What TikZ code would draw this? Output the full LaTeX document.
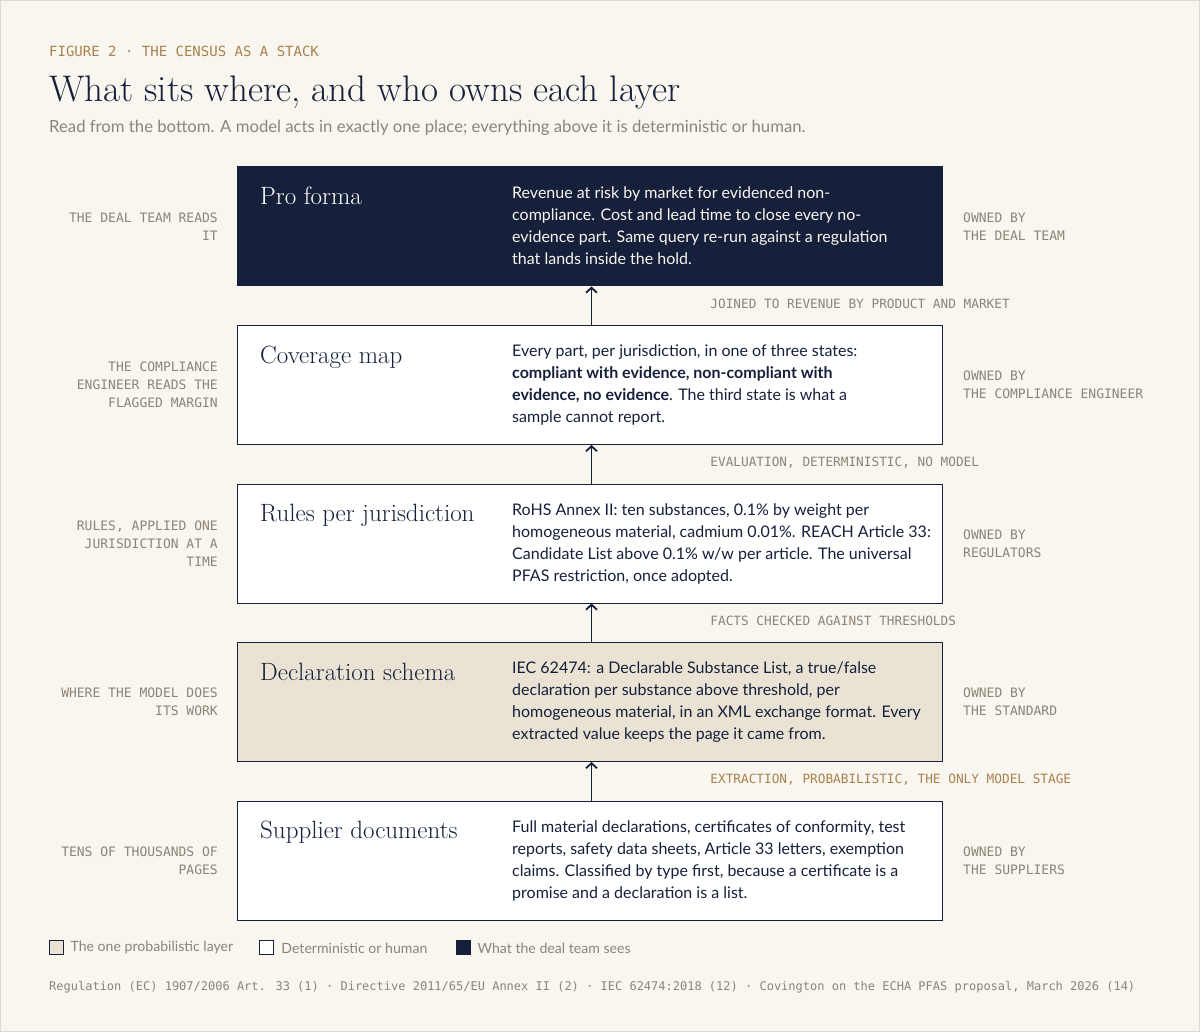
\documentclass[tikz,border=0pt]{standalone}
\usepackage{fontspec}
\usetikzlibrary{arrows.meta,positioning}
\newfontfamily\bodyfont{Lato}
\newfontfamily\monofont{DejaVu Sans Mono}
\definecolor{ink}{HTML}{16203A}
\definecolor{paper}{HTML}{F9F6EF}
\definecolor{sand}{HTML}{EAE3D4}
\definecolor{gold}{HTML}{A8824E}
\definecolor{stone}{HTML}{8C8477}
\definecolor{rim}{HTML}{DDD9D1}
\tikzset{
    layer/.style={draw=ink, line width=1pt, fill=white, minimum width=705pt,
    	minimum height=119pt, inner sep=0pt},
    head/.style={anchor=base west, inner sep=0pt, text=ink,
    	font=\fontsize{25}{28}\selectfont},
    body/.style={anchor=north west, inner sep=0pt, align=left, text=ink,
    	font=\bodyfont\fontsize{16}{22}\selectfont},
    side/.style={inner sep=0pt, text=stone,
    	font=\monofont\fontsize{13}{18}\selectfont},
    flowlabel/.style={anchor=west, inner sep=0pt, text=stone, xshift=118pt,
    	yshift=2pt, font=\monofont\fontsize{12.75}{14}\selectfont},
    arr/.style={draw=ink, line width=1.8pt, -{Straight Barb[length=5pt,width=11pt]}},
    key/.style={draw=ink, line width=.8pt, minimum size=14pt, inner sep=0pt},
    keytext/.style={inner sep=0pt, text=stone, font=\bodyfont\fontsize{14.1}{16}\selectfont}
}
\begin{document}
\begin{tikzpicture}[x=1pt, y=-1pt]
	\path[fill=paper, draw=rim] (0.5,0.5) rectangle (1199.5,1031.5);
	\useasboundingbox (0,0) rectangle (1200,1032);
	% header
	\node[anchor=base west, inner sep=0pt, text=gold,
		font=\monofont\fontsize{14}{16}\selectfont] (fig) at (49,57)
		{FIGURE 2 · THE CENSUS AS A STACK};
	\node[anchor=base west, inner sep=0pt, text=ink,
		font=\fontsize{37}{42}\selectfont] (title) at (49,102)
		{What sits where, and who owns each layer};
	\node[anchor=base west, inner sep=0pt, text=stone,
		font=\bodyfont\fontsize{16.7}{19}\selectfont] (sub) at (49,133)
		{Read from the bottom. A model acts in exactly one place; everything above it is deterministic or human.};
	% the stack
	\node[layer, anchor=north west] (sup) at (237,800.5) {};
	\node[layer, fill=sand, above=38.5pt of sup] (dec) {};
	\node[layer, above=38.5pt of dec] (rul) {};
	\node[layer, above=38.5pt of rul] (cov) {};
	\node[layer, fill=ink, above=38.5pt of cov] (pro) {};
	\node[head, text=white] (pro-h) at ([shift={(23pt,-38pt)}]pro.north west) {Pro forma};
	\node[head] (cov-h) at ([shift={(23pt,-38pt)}]cov.north west) {Coverage map};
	\node[head] (rul-h) at ([shift={(23pt,-38pt)}]rul.north west) {Rules per jurisdiction};
	\node[head] (dec-h) at ([shift={(23pt,-38pt)}]dec.north west) {Declaration schema};
	\node[head] (sup-h) at ([shift={(23pt,-38pt)}]sup.north west) {Supplier documents};
	\node[body, text=paper] (pro-b) at ([shift={(275pt,-20pt)}]pro.north west)
		{Revenue at risk by market for evidenced non-\\
		compliance. Cost and lead time to close every no-\\
		evidence part. Same query re-run against a regulation\\
		that lands inside the hold.};
	\node[body] (cov-b) at ([shift={(275pt,-20pt)}]cov.north west)
		{Every part, per jurisdiction, in one of three states:\\
		\textbf{compliant with evidence, non-compliant with}\\
		\textbf{evidence, no evidence}. The third state is what a\\
		sample cannot report.};
	\node[body] (rul-b) at ([shift={(275pt,-20pt)}]rul.north west)
		{RoHS Annex II: ten substances, 0.1\% by weight per\\
		homogeneous material, cadmium 0.01\%. REACH Article 33:\\
		Candidate List above 0.1\% w/w per article. The universal\\
		PFAS restriction, once adopted.};
	\node[body] (dec-b) at ([shift={(275pt,-20pt)}]dec.north west)
		{IEC 62474: a Declarable Substance List, a true/false\\
		declaration per substance above threshold, per\\
		homogeneous material, in an XML exchange format. Every\\
		extracted value keeps the page it came from.};
	\node[body] (sup-b) at ([shift={(275pt,-20pt)}]sup.north west)
		{Full material declarations, certificates of conformity, test\\
		reports, safety data sheets, Article 33 letters, exemption\\
		claims. Classified by type first, because a certificate is a\\
		promise and a declaration is a list.};
	% who reads it
	\node[side, anchor=east, align=right] (pro-l) at ([xshift=-19pt]pro.west) {THE DEAL TEAM READS\\IT};
	\node[side, anchor=east, align=right] (cov-l) at ([xshift=-19pt]cov.west) {THE COMPLIANCE\\ENGINEER READS THE\\FLAGGED MARGIN};
	\node[side, anchor=east, align=right] (rul-l) at ([xshift=-19pt]rul.west) {RULES, APPLIED ONE\\JURISDICTION AT A\\TIME};
	\node[side, anchor=east, align=right] (dec-l) at ([xshift=-19pt]dec.west) {WHERE THE MODEL DOES\\ITS WORK};
	\node[side, anchor=east, align=right] (sup-l) at ([xshift=-19pt]sup.west) {TENS OF THOUSANDS OF\\PAGES};
	% who owns it
	\node[side, anchor=west, align=left] (pro-r) at ([xshift=20pt]pro.east) {OWNED BY\\THE DEAL TEAM};
	\node[side, anchor=west, align=left] (cov-r) at ([xshift=20pt]cov.east) {OWNED BY\\THE COMPLIANCE ENGINEER};
	\node[side, anchor=west, align=left] (rul-r) at ([xshift=20pt]rul.east) {OWNED BY\\REGULATORS};
	\node[side, anchor=west, align=left] (dec-r) at ([xshift=20pt]dec.east) {OWNED BY\\THE STANDARD};
	\node[side, anchor=west, align=left] (sup-r) at ([xshift=20pt]sup.east) {OWNED BY\\THE SUPPLIERS};
	% flow
	\draw[arr] ([xshift=1.5pt]sup.north) -- node[flowlabel, text=gold] {EXTRACTION, PROBABILISTIC, THE ONLY MODEL STAGE} ([xshift=1.5pt]dec.south);
	\draw[arr] ([xshift=1.5pt]dec.north) -- node[flowlabel] {FACTS CHECKED AGAINST THRESHOLDS} ([xshift=1.5pt]rul.south);
	\draw[arr] ([xshift=1.5pt]rul.north) -- node[flowlabel] {EVALUATION, DETERMINISTIC, NO MODEL} ([xshift=1.5pt]cov.south);
	\draw[arr] ([xshift=1.5pt]cov.north) -- node[flowlabel] {JOINED TO REVENUE BY PRODUCT AND MARKET} ([xshift=1.5pt]pro.south);
	% legend
	\node[key, fill=sand] (k1) at (56,947) {};
	\node[keytext, right=7pt of k1, yshift=-1pt] (t1) {The one probabilistic layer};
	\node[key, fill=white, right=26pt of t1, yshift=1pt] (k2) {};
	\node[keytext, right=7pt of k2, yshift=-1pt] (t2) {Deterministic or human};
	\node[key, fill=ink, right=28pt of t2, yshift=1pt] (k3) {};
	\node[keytext, right=7pt of k3, yshift=-1pt] (t3) {What the deal team sees};
	% sources
	\node[anchor=base west, inner sep=0pt, text=stone,
		font=\monofont\fontsize{12}{14}\selectfont] (src) at (49,990)
		{Regulation (EC) 1907/2006 Art. 33 (1) · Directive 2011/65/EU Annex II (2) · IEC 62474:2018 (12) · Covington on the ECHA PFAS proposal, March 2026 (14)};
\end{tikzpicture}
\end{document}
